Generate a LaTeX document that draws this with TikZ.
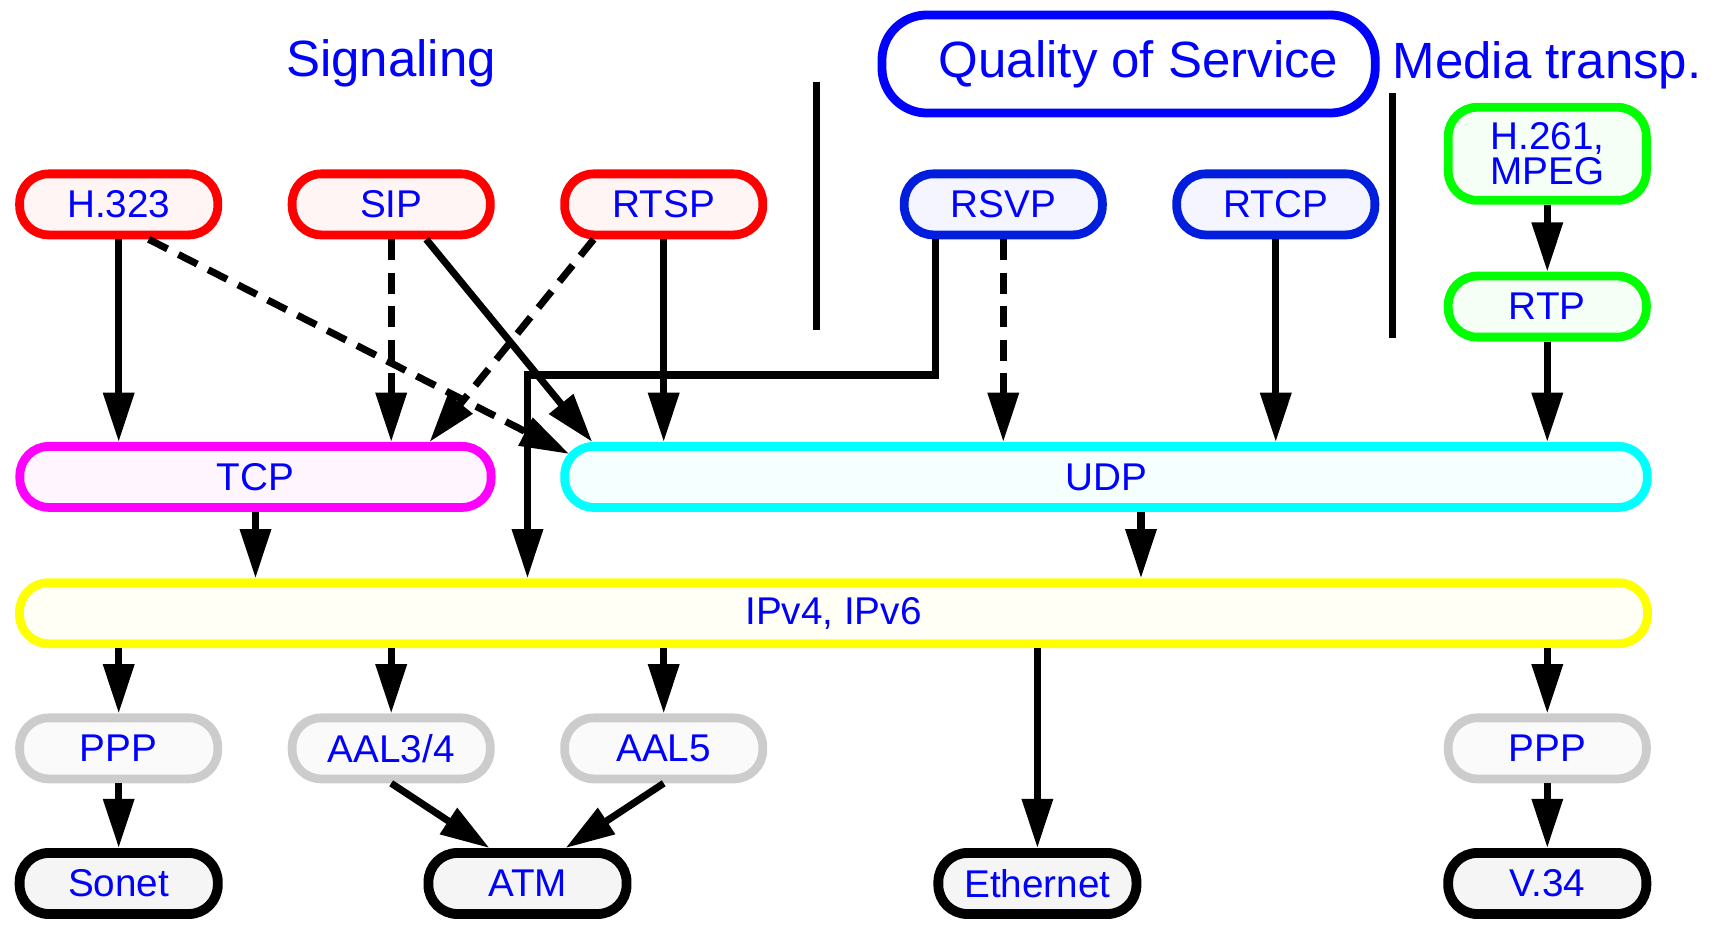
\documentclass[tikz,border=0pt]{standalone}
\usepackage{fontspec}
\setmainfont{Liberation Sans}
\usetikzlibrary{arrows.meta,calc}

\definecolor{txtblue}{RGB}{0,0,255}
\definecolor{qosblue}{RGB}{0,30,220}
\definecolor{sigred}{RGB}{255,0,0}
\definecolor{medgreen}{RGB}{0,255,0}
\definecolor{tcpmag}{RGB}{255,0,255}
\definecolor{udpcyan}{RGB}{0,255,255}
\definecolor{ipyellow}{RGB}{255,255,0}

\begin{document}
\begin{tikzpicture}[x=0.01cm,y=-0.01cm,
  >={Triangle[length=14pt,width=8.5pt]},
  every path/.style={line width=2pt},
  proto/.style={draw,line width=2.5pt,rounded corners=0.29cm,minimum width=1.98cm,minimum height=0.61cm,
    inner sep=0pt,text=txtblue,font=\fontsize{11}{10}\selectfont,align=center},
  sig/.style={proto,draw=sigred,fill=sigred!4},
  qos/.style={proto,draw=qosblue,fill=blue!4},
  media/.style={proto,draw=medgreen,fill=medgreen!4},
  link/.style={proto,draw=black!20,fill=black!2},
  phys/.style={proto,draw=black,fill=black!4,line width=2.8pt},
  head/.style={text=txtblue,font=\fontsize{14.5}{14}\selectfont},
  dep/.style={->},
  opt/.style={->,dash pattern=on 6pt off 3.5pt}]
\useasboundingbox (0,0) rectangle (1723,925);

% group titles
\node[head] (signaling) at (391,63) {Signaling};
\node[head,draw=blue,fill=white,line width=2.5pt,rounded corners=0.45cm,minimum width=4.93cm,minimum height=0.98cm]
  (qosbox) at (1128.6,64) {\hspace*{0.2cm}Quality of Service};
\node[head] (mediatitle) at (1547,65) {Media transp.};

% separators
\coordinate (sepa) at (816.5,82);
\coordinate (sepb) at (816.5,330);
\coordinate (sepc) at (1392.3,93);
\coordinate (sepd) at (1392.3,338);
\draw (sepa) -- (sepb);
\draw (sepc) -- (sepd);

% application layer
\node[sig] (h323) at (118.7,204.4) {H.323};
\node[sig] (sip) at (391.2,204.4) {SIP};
\node[sig] (rtsp) at (663.7,204.4) {RTSP};
\node[qos] (rsvp) at (1003.3,204.4) {RSVP};
\node[qos] (rtcp) at (1275.8,204.4) {RTCP};
\node[media,minimum height=0.93cm] (codec) at (1547.3,153.8) {H.261,\\MPEG};
\node[media] (rtp) at (1547.3,306.6) {RTP};

% transport and network
\node[proto,draw=tcpmag,fill=tcpmag!4,minimum width=4.71cm] (tcp) at (255.5,476.9) {TCP};
\node[proto,draw=udpcyan,fill=udpcyan!4,minimum width=10.82cm] (udp) at (1106,476.9) {UDP};
\node[proto,draw=ipyellow,fill=ipyellow!4,minimum width=16.27cm] (ip) at (833.5,613.2) {IPv4, IPv6};

% link layer
\node[link] (ppp1) at (118.7,748.4) {PPP};
\node[link] (aal34) at (391.2,748.4) {AAL3/4};
\node[link] (aal5) at (663.7,748.4) {AAL5};
\node[link] (ppp2) at (1547.3,748.4) {PPP};

% physical
\node[phys] (sonet) at (118.7,883.5) {Sonet};
\node[phys] (atm) at (527.5,883.5) {ATM};
\node[phys] (eth) at (1037.4,883.5) {Ethernet};
\node[phys] (v34) at (1547.3,883.5) {V.34};

% signaling down to transport
\draw[dep] (h323) -- (h323 |- tcp.north);
\draw[opt] ($(h323.south)+(30,0)$) -- ($(udp.north west)+(9,12)$);
\draw[opt] (sip) -- (sip |- tcp.north);
\draw[dep] ($(sip.south)+(35,0)$) -- ($(udp.north west)+(32,0)$);
\draw[opt] ($(rtsp.south)+(-70,0)$) -- ($(tcp.north east)+(-66,0)$);
\draw[dep] (rtsp) -- (rtsp |- udp.north);

% qos and media
\coordinate (bend) at (527.5,375);
\draw[dep] ($(rsvp.south)+(-68,0)$) |- (bend) -- (bend |- ip.north);
\draw[opt] (rsvp) -- (rsvp |- udp.north);
\draw[dep] (rtcp) -- (rtcp |- udp.north);
\draw[dep] (codec) -- (rtp);
\draw[dep] (rtp) -- (rtp |- udp.north);

% transport to ip
\coordinate (udpout) at ($(udp.south)+(35,0)$);
\draw[dep] (tcp) -- (tcp |- ip.north);
\draw[dep] (udpout) -- (udpout |- ip.north);

% ip to link / physical
\draw[dep] (ip.south -| ppp1) -- (ppp1);
\draw[dep] (ip.south -| aal34) -- (aal34);
\draw[dep] (ip.south -| aal5) -- (aal5);
\draw[dep] (ip.south -| eth) -- (eth);
\draw[dep] (ip.south -| ppp2) -- (ppp2);
\draw[dep] (ppp1) -- (sonet);
\draw[dep] (aal34.south) -- ($(atm.north)+(-38,0)$);
\draw[dep] (aal5.south) -- ($(atm.north)+(38,0)$);
\draw[dep] (ppp2) -- (v34);
\end{tikzpicture}
\end{document}
